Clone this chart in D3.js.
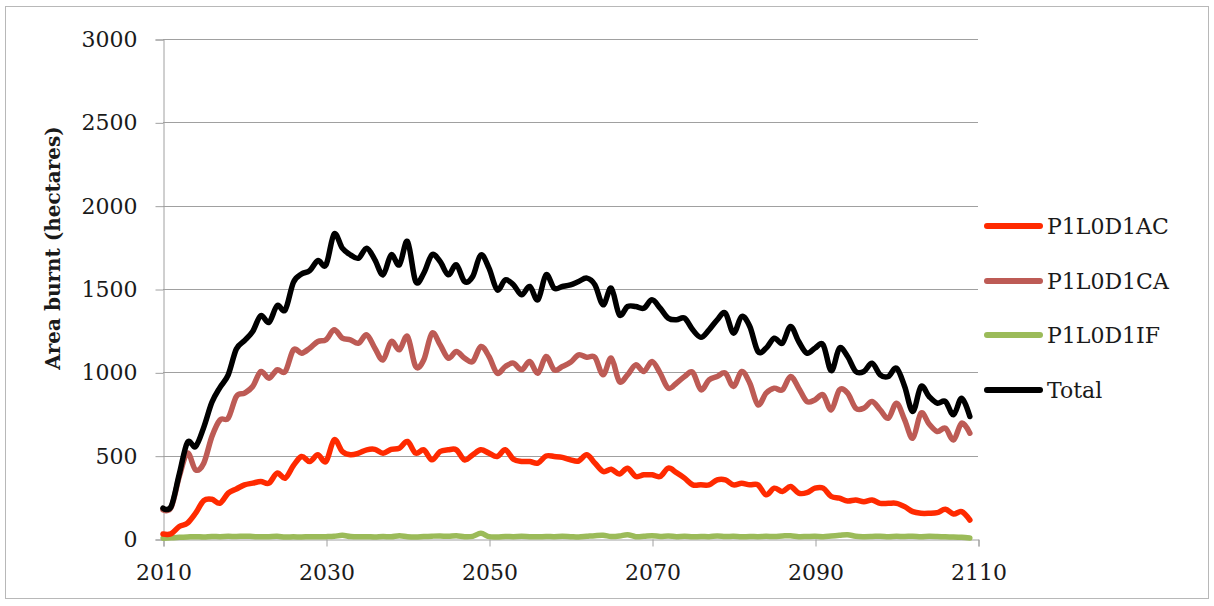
<!DOCTYPE html>
<html>
<head>
<meta charset="utf-8">
<script src="https://cdn.jsdelivr.net/npm/d3@7"></script>
<style>
  html, body { margin: 0; padding: 0; background: #fff; }
  svg { display: block; }
  text { font-family: "DejaVu Serif", "Liberation Serif", serif; fill: #1a1a1a; }
</style>
</head>
<body>
<svg id="chart" width="1214" height="606"></svg>
<script>
// ---- data ----
const years = d3.range(2010, 2110);
const seriesNames = ["P1L0D1AC", "P1L0D1CA", "P1L0D1IF", "Total"];
const seriesColors = ["#ff2a00", "#bd5b55", "#9bbb59", "#000000"];
const yTicks = [0, 500, 1000, 1500, 2000, 2500, 3000];
const xTicks = [2010, 2030, 2050, 2070, 2090, 2110];

const acValues = [
  30, 32, 75, 95, 155, 230, 238, 215, 275, 300,
  325, 335, 345, 335, 395, 365, 440, 495, 465, 505,
  465, 595, 525, 505, 515, 535, 538, 515, 538, 545,
  585, 515, 535, 475, 525, 535, 535, 475, 505, 535,
  515, 495, 535, 478, 465, 465, 455, 498, 495, 490,
  475, 468, 505, 455, 405, 418, 390, 424, 375, 385,
  385, 375, 425, 398, 365, 325, 325, 325, 355, 355,
  325, 335, 325, 325, 265, 305, 285, 315, 275, 278,
  305, 305, 255, 245, 228, 234, 224, 234, 214, 214,
  214, 194, 164, 154, 154, 158, 178, 150, 164, 114
];
const caValues = [
  175, 190, 375, 515, 415, 455, 615, 715, 725, 855,
  875, 915, 1005, 965, 1015, 1005, 1135, 1115, 1145, 1185,
  1195, 1255, 1205, 1195, 1175, 1225, 1145, 1075, 1185, 1135,
  1215, 1035, 1075, 1235, 1165, 1085, 1125, 1085, 1065, 1155,
  1095, 995, 1035, 1055, 1015, 1065, 995, 1095, 1015, 1035,
  1060, 1105, 1090, 1090, 985, 1085, 945, 985, 1045, 1005,
  1065, 995, 905, 935, 975, 1000, 895, 955, 975, 995,
  915, 1005, 935, 805, 875, 905, 895, 975, 905, 825,
  835, 865, 775, 895, 875, 785, 785, 825, 775, 725,
  815, 715, 605, 755, 690, 645, 665, 595, 695, 635
];
const ifValues = [
  5, 8, 10, 12, 14, 12, 15, 14, 16, 15,
  17, 15, 13, 14, 16, 12, 13, 12, 14, 13,
  14, 16, 22, 15, 13, 14, 12, 15, 13, 20,
  14, 12, 15, 17, 18, 16, 20, 14, 16, 34,
  14, 12, 15, 14, 16, 14, 13, 15, 14, 16,
  14, 12, 16, 20, 22, 15, 18, 26, 14, 16,
  20, 15, 18, 14, 16, 13, 15, 14, 18, 15,
  16, 13, 15, 14, 16, 15, 18, 20, 14, 15,
  16, 14, 18, 22, 26, 16, 14, 15, 17, 14,
  16, 15, 17, 14, 16, 15, 13, 12, 10, 6
];
const totalValues = [
  185, 195, 390, 580, 555, 670, 820, 910, 985, 1140,
  1190, 1245, 1340, 1300, 1400, 1375, 1540, 1590, 1610, 1670,
  1645, 1830, 1745, 1705, 1685, 1745, 1675, 1585, 1705, 1645,
  1785, 1545, 1595, 1705, 1665, 1585, 1645, 1545, 1575, 1705,
  1625, 1495, 1555, 1525, 1465, 1515, 1435, 1585, 1505, 1515,
  1525, 1545, 1565, 1525, 1405, 1505, 1345, 1395, 1395, 1385,
  1435, 1385, 1325, 1315, 1325, 1255, 1210, 1255, 1315, 1355,
  1235, 1335, 1275, 1125, 1145, 1205, 1175, 1275, 1185, 1115,
  1145, 1165, 1010, 1145, 1095, 1005, 1005, 1055, 985, 975,
  1025, 915, 765, 915, 855, 815, 825, 745, 845, 735
];
const seriesValues = [acValues, caValues, ifValues, totalValues];
const yTitle = "Area burnt (hectares)";

// ---- layout ----
const svg = d3.select("#chart");
const x = d3.scaleLinear().domain([2010, 2110]).range([163, 978]);
const y = d3.scaleLinear().domain([0, 3000]).range([539, 39]);
const gridColor = "#a0a0a0";

// outer frame
svg.append("rect")
  .attr("x", 5.5).attr("y", 6.5)
  .attr("width", 1203).attr("height", 592)
  .attr("fill", "#fff").attr("stroke", "#b8b8b8").attr("stroke-width", 1);

// gridlines
svg.append("g")
  .selectAll("line")
  .data(yTicks.filter(d => d > 0))
  .join("line")
  .attr("x1", x(2010)).attr("x2", x(2110))
  .attr("y1", d => Math.round(y(d)) + 0.5).attr("y2", d => Math.round(y(d)) + 0.5)
  .attr("stroke", gridColor).attr("stroke-width", 1);

// y axis
const yAxis = svg.append("g")
  .attr("transform", `translate(${x(2010) + 0.5},0.5)`)
  .call(d3.axisLeft(y).tickValues(yTicks).tickSize(8).tickPadding(18).tickFormat(d3.format("d")));
yAxis.select(".domain").attr("stroke", gridColor);
yAxis.selectAll(".tick line").attr("stroke", gridColor);
yAxis.selectAll(".tick text")
  .attr("font-family", "DejaVu Serif").attr("font-size", 22).attr("fill", "#1a1a1a");

// x axis
const xAxis = svg.append("g")
  .attr("transform", `translate(0.5,${y(0) + 0.5})`)
  .call(d3.axisBottom(x).tickValues(xTicks).tickSize(7).tickPadding(18).tickFormat(d3.format("d")));
xAxis.select(".domain").attr("stroke", gridColor);
xAxis.selectAll(".tick line").attr("stroke", gridColor);
xAxis.selectAll(".tick text")
  .attr("font-family", "DejaVu Serif").attr("font-size", 22).attr("fill", "#1a1a1a");

// y title
svg.append("text")
  .attr("transform", `translate(60,${(128 + 368) / 2}) rotate(-90)`)
  .attr("text-anchor", "middle")
  .attr("font-size", 20).attr("font-weight", "bold")
  .text(yTitle);

// lines
const line = d3.line()
  .x((d, i) => x(years[i]))
  .y(d => y(d))
  .curve(d3.curveCatmullRom.alpha(0));

const drawOrder = [2, 1, 0, 3];
svg.append("g")
  .selectAll("path")
  .data(drawOrder)
  .join("path")
  .attr("d", k => line(seriesValues[k]))
  .attr("fill", "none")
  .attr("stroke", k => seriesColors[k])
  .attr("stroke-width", 5.5)
  .attr("stroke-linejoin", "round")
  .attr("stroke-linecap", "round");

// legend
const legend = svg.append("g");
const legY = [226, 281, 335, 390];
const items = legend.selectAll("g")
  .data(seriesNames)
  .join("g")
  .attr("transform", (d, i) => `translate(0,${legY[i]})`);
items.append("line")
  .attr("x1", 987).attr("x2", 1040)
  .attr("y1", 0).attr("y2", 0)
  .attr("stroke", (d, i) => seriesColors[i])
  .attr("stroke-width", 6)
  .attr("stroke-linecap", "round");
items.append("text")
  .attr("x", 1047).attr("y", 0)
  .attr("dy", "0.36em")
  .attr("font-size", 22)
  .text(d => d);
</script>
</body>
</html>
